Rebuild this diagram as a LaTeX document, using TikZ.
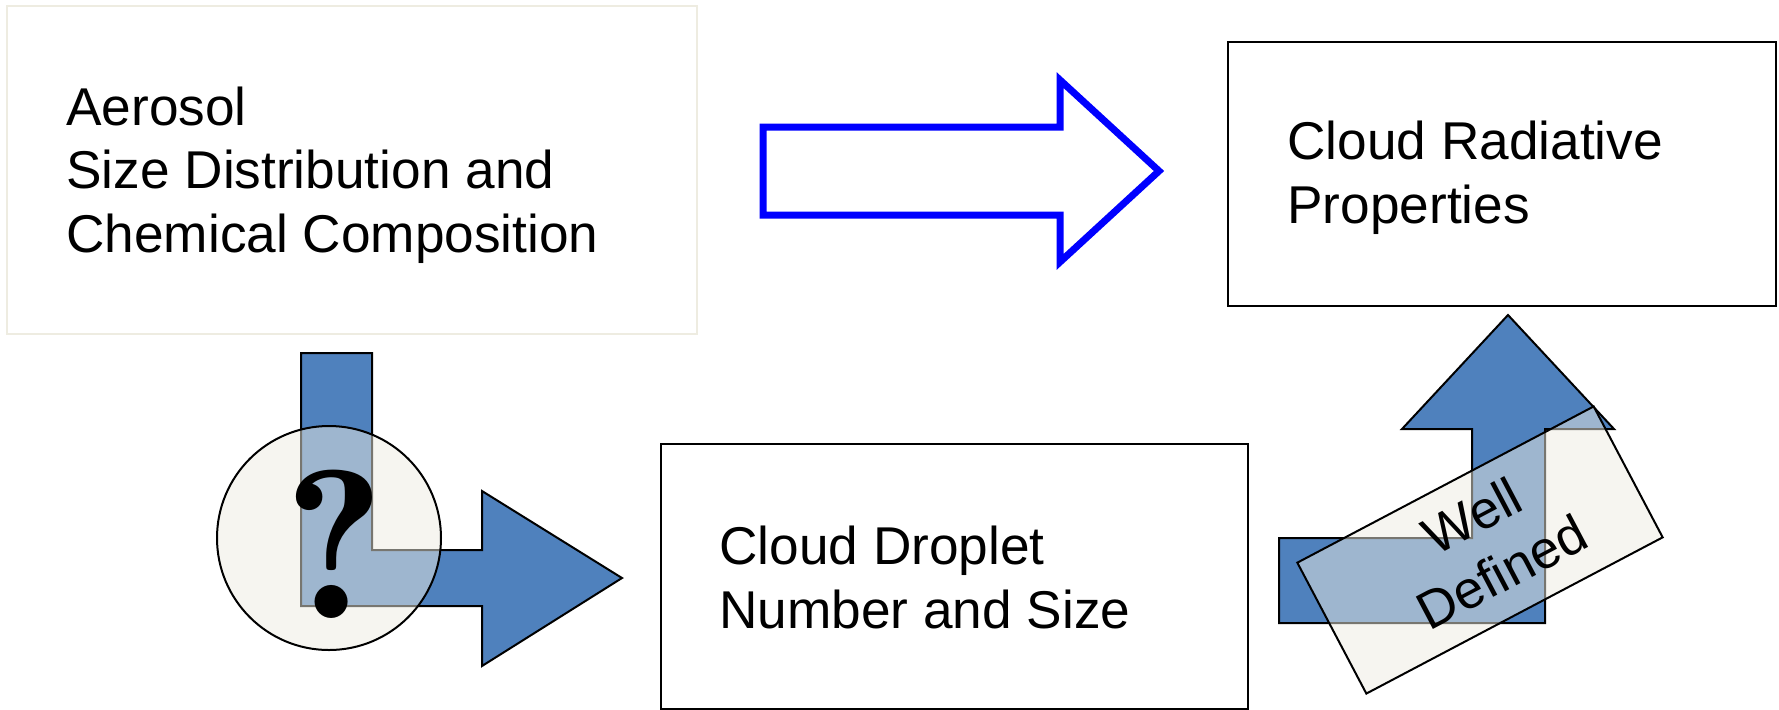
\documentclass[tikz,border=0pt]{standalone}
\usepackage{fontspec}
\setmainfont{Liberation Sans}
\definecolor{beige}{HTML}{EEECE1}
\definecolor{arrowblue}{HTML}{4F81BD}
\begin{document}
\begin{tikzpicture}[x=0.5pt,y=-0.5pt,
  txt/.style={font=\fontsize{26.6pt}{31.75pt}\selectfont, align=left, inner sep=0pt, anchor=base west},
  box/.style={draw=black, line width=1pt, fill=white, inner sep=0pt, rectangle},
  bluearrow/.style={fill=arrowblue, draw=black, line width=1pt, line join=miter},
  veil/.style={fill=beige, fill opacity=0.5, text opacity=1, draw=black, line width=1pt, inner sep=0pt},
]
\useasboundingbox (0,0) rectangle (1779,709);
\clip (0,0) rectangle (1779,709);

% boxes
\node[box, draw=beige, line width=1.2pt, minimum width=345pt, minimum height=164pt] (aer) at (352,170) {};
\node[txt] (aert) at (66,252) {Aerosol\\Size Distribution and\\Chemical Composition};

\node[box, minimum width=274pt, minimum height=132pt] (crp) at (1502,174) {};
\node[txt] (crpt) at (1287,223) {Cloud Radiative\\Properties};

\node[box, minimum width=293.5pt, minimum height=132.5pt] (cdn) at (954.5,576.5) {};
\node[txt] (cdnt) at (719,628) {Cloud Droplet\\Number and Size};

% hollow blue arrow
\draw[blue, line width=3.5pt, line join=miter]
  (763,127) -- (1060,127) -- (1060,80) -- (1159,171) -- (1060,262) -- (1060,215) -- (763,215) -- cycle;

% left bent arrow with question circle
\draw[bluearrow]
  (301,353) -- (372,353) -- (372,550) -- (482,550) -- (482,491) -- (622,578)
  -- (482,666) -- (482,606) -- (301,606) -- cycle;
\node[veil, circle, minimum size=112pt] (qc) at (329,538) {};
\node[inner sep=0pt, anchor=base, font=\fontfamily{lmr}\bfseries\fontsize{106pt}{106pt}\selectfont] (q) at (335,618) {?};

% right bent-up arrow with well-defined label
\draw[bluearrow]
  (1279,538) -- (1472,538) -- (1472,429) -- (1402,429) -- (1508,315) -- (1614,429)
  -- (1545,429) -- (1545,623) -- (1279,623) -- cycle;
\node[veil, rectangle, minimum width=167.5pt, minimum height=74pt, rotate=27.8] (wd) at (1480,550) {};
\node[inner sep=0pt, align=center, rotate=27.8, font=\fontsize{26.6pt}{31.75pt}\selectfont] (wdt) at (1487,544)
  {Well\\Defined};
\end{tikzpicture}
\end{document}
